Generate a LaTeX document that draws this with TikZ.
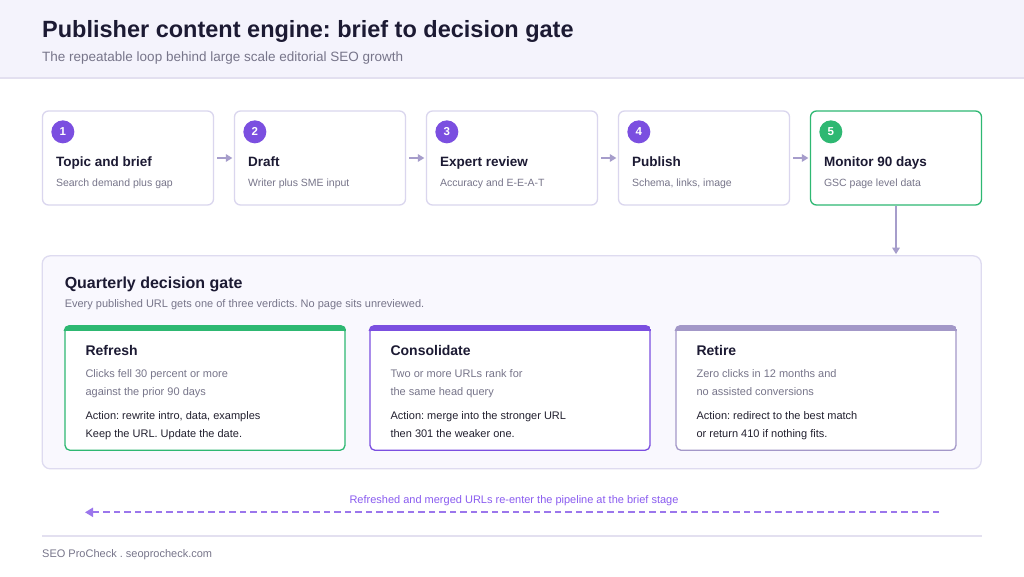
\documentclass[tikz,border=0pt]{standalone}
\usepackage{fontspec}
\setmainfont{Liberation Sans}
\usetikzlibrary{positioning, arrows.meta, calc}
\frenchspacing

\definecolor{ink}{HTML}{1C1A33}
\definecolor{inktext}{HTML}{22202F}
\definecolor{muted}{HTML}{77758A}
\definecolor{headbg}{HTML}{F4F3FC}
\definecolor{rule}{HTML}{E3E0F0}
\definecolor{edge}{HTML}{DAD6EE}
\definecolor{wire}{HTML}{A69DCB}
\definecolor{violet1}{HTML}{7B4FE0}
\definecolor{green1}{HTML}{2EB872}
\definecolor{greyviolet}{HTML}{A398C8}
\definecolor{gatebg}{HTML}{F9F8FE}
\definecolor{gateedge}{HTML}{DEDBF0}
\definecolor{loopviolet}{HTML}{9B76EC}
\definecolor{looptext}{HTML}{8A5CF0}

\begin{document}
\begin{tikzpicture}[
    x=1pt, y=-1pt,
    stepbox/.style={draw=edge, line width=1.3pt, rounded corners=6pt, fill=white, minimum width=171pt, minimum height=94pt, inner sep=0pt},
    badge/.style={circle, fill=#1, text=white, minimum size=23pt, inner sep=0pt, font=\fontsize{11.5}{13}\selectfont\bfseries},
    steptitle/.style={anchor=base west, inner sep=0pt, text=ink, font=\fontsize{13.5}{16}\selectfont\bfseries},
    stepnote/.style={anchor=base west, inner sep=0pt, text=muted, font=\fontsize{10.5}{13}\selectfont},
    flow/.style={-{Triangle[length=6.5pt,width=7.5pt]}, line width=1.5pt, draw=wire},
    card/.style={draw=#1, line width=1.3pt, rounded corners=5pt, fill=white, minimum width=280pt, minimum height=124pt, inner sep=0pt},
    cardtitle/.style={anchor=base west, inner sep=0pt, text=ink, font=\fontsize{14}{17}\selectfont\bfseries},
    cardnote/.style={anchor=base west, inner sep=0pt, align=left, text=muted, font=\fontsize{11}{18}\selectfont},
    cardaction/.style={anchor=base west, inner sep=0pt, align=left, text=inktext, font=\fontsize{11}{18}\selectfont}
]
\useasboundingbox (0,0) rectangle (1024,576);
\fill[white] (0,0) rectangle (1024,576);

% header band
\fill[headbg] (0,0) rectangle (1024,78);
\draw[rule, line width=1.5pt] (0,78) -- (1024,78);
\node[anchor=base west, inner sep=0pt, text=ink, font=\fontsize{23.5}{28}\selectfont\bfseries] (title) at (42,37.5) {Publisher content engine: brief to decision gate};
\node[anchor=base west, inner sep=0pt, text=muted, font=\fontsize{13.5}{16}\selectfont] (subtitle) at (42,61.5) {The repeatable loop behind large scale editorial SEO growth};

% pipeline
\node[stepbox] (s1) at (128,158) {};
\node[stepbox] (s2) at (320,158) {};
\node[stepbox] (s3) at (512,158) {};
\node[stepbox] (s4) at (704,158) {};
\node[stepbox, draw=green1] (s5) at (896,158) {};

\node[badge=violet1] (b1) at ([xshift=21pt,yshift=-21.5pt]s1.north west) {1};
\node[badge=violet1] (b2) at ([xshift=21pt,yshift=-21.5pt]s2.north west) {2};
\node[badge=violet1] (b3) at ([xshift=21pt,yshift=-21.5pt]s3.north west) {3};
\node[badge=violet1] (b4) at ([xshift=21pt,yshift=-21.5pt]s4.north west) {4};
\node[badge=green1] (b5) at ([xshift=21pt,yshift=-21.5pt]s5.north west) {5};

\node[steptitle] (t1) at ([xshift=14pt,yshift=-56pt]s1.north west) {Topic and brief};
\node[stepnote] (n1) at ([xshift=14pt,yshift=-76pt]s1.north west) {Search demand plus gap};
\node[steptitle] (t2) at ([xshift=14pt,yshift=-56pt]s2.north west) {Draft};
\node[stepnote] (n2) at ([xshift=14pt,yshift=-76pt]s2.north west) {Writer plus SME input};
\node[steptitle] (t3) at ([xshift=14pt,yshift=-56pt]s3.north west) {Expert review};
\node[stepnote] (n3) at ([xshift=14pt,yshift=-76pt]s3.north west) {Accuracy and E-E-A-T};
\node[steptitle] (t4) at ([xshift=14pt,yshift=-56pt]s4.north west) {Publish};
\node[stepnote] (n4) at ([xshift=14pt,yshift=-76pt]s4.north west) {Schema, links, image};
\node[steptitle] (t5) at ([xshift=14pt,yshift=-56pt]s5.north west) {Monitor 90 days};
\node[stepnote] (n5) at ([xshift=14pt,yshift=-76pt]s5.north west) {GSC page level data};

\draw[flow, shorten <=3pt, shorten >=1.5pt] (s1.east) -- (s2.west);
\draw[flow, shorten <=3pt, shorten >=1.5pt] (s2.east) -- (s3.west);
\draw[flow, shorten <=3pt, shorten >=1.5pt] (s3.east) -- (s4.west);
\draw[flow, shorten <=3pt, shorten >=1.5pt] (s4.east) -- (s5.west);

% decision gate
\node[draw=gateedge, line width=1.3pt, rounded corners=8pt, fill=gatebg, minimum width=939pt, minimum height=213pt, inner sep=0pt] (gate) at (511.7,362.3) {};
\draw[flow, shorten >=1pt] (s5.south) -- (s5.south |- gate.north);
\node[anchor=base west, inner sep=0pt, text=ink, font=\fontsize{16}{19}\selectfont\bfseries] (gatetitle) at ([xshift=23pt,yshift=-33pt]gate.north west) {Quarterly decision gate};
\node[anchor=base west, inner sep=0pt, text=muted, font=\fontsize{11}{13}\selectfont] (gatenote) at ([xshift=23pt,yshift=-52.5pt]gate.north west) {Every published URL gets one of three verdicts. No page sits unreviewed.};

\node[card=green1] (refresh) at (205,388.3) {};
\node[card=violet1] (consolidate) at (510,388.3) {};
\node[card=greyviolet] (retire) at (816,388.3) {};

\begin{scope}
  \clip[rounded corners=5.5pt] ([shift={(-0.65pt,0.65pt)}]refresh.north west) rectangle ([shift={(0.65pt,-0.65pt)}]refresh.south east);
  \fill[green1] ([shift={(-1pt,1pt)}]refresh.north west) rectangle ([yshift=-5pt]refresh.north east);
\end{scope}
\begin{scope}
  \clip[rounded corners=5.5pt] ([shift={(-0.65pt,0.65pt)}]consolidate.north west) rectangle ([shift={(0.65pt,-0.65pt)}]consolidate.south east);
  \fill[violet1] ([shift={(-1pt,1pt)}]consolidate.north west) rectangle ([yshift=-5pt]consolidate.north east);
\end{scope}
\begin{scope}
  \clip[rounded corners=5.5pt] ([shift={(-0.65pt,0.65pt)}]retire.north west) rectangle ([shift={(0.65pt,-0.65pt)}]retire.south east);
  \fill[greyviolet] ([shift={(-1pt,1pt)}]retire.north west) rectangle ([yshift=-5pt]retire.north east);
\end{scope}

\node[cardtitle] (refreshtitle) at ([xshift=21pt,yshift=-29.5pt]refresh.north west) {Refresh};
\node[cardnote] (refreshnote) at ([xshift=21pt,yshift=-70pt]refresh.north west) {Clicks fell 30 percent or more\\against the prior 90 days};
\node[cardaction] (refreshaction) at ([xshift=21pt,yshift=-112pt]refresh.north west) {Action: rewrite intro, data, examples\\Keep the URL. Update the date.};

\node[cardtitle] (consolidatetitle) at ([xshift=21pt,yshift=-29.5pt]consolidate.north west) {Consolidate};
\node[cardnote] (consolidatenote) at ([xshift=21pt,yshift=-70pt]consolidate.north west) {Two or more URLs rank for\\the same head query};
\node[cardaction] (consolidateaction) at ([xshift=21pt,yshift=-112pt]consolidate.north west) {Action: merge into the stronger URL\\then 301 the weaker one.};

\node[cardtitle] (retiretitle) at ([xshift=21pt,yshift=-29.5pt]retire.north west) {Retire};
\node[cardnote] (retirenote) at ([xshift=21pt,yshift=-70pt]retire.north west) {Zero clicks in 12 months and\\no assisted conversions};
\node[cardaction] (retireaction) at ([xshift=21pt,yshift=-112pt]retire.north west) {Action: redirect to the best match\\or return 410 if nothing fits.};

% loop back to the brief stage
\coordinate (loopstart) at (939,512.3);
\coordinate (loopend) at (85,512.3);
\draw[loopviolet, line width=2pt, dash pattern=on 6.5pt off 4pt, -{Triangle[length=8pt,width=9pt]}] (loopstart) -- (loopend);
\node[anchor=base, inner sep=0pt, text=looptext, font=\fontsize{11}{13}\selectfont] (looplabel) at (514,503) {Refreshed and merged URLs re-enter the pipeline at the brief stage};

% footer
\draw[rule, line width=1.5pt] (42,536) -- (982,536);
\node[anchor=base west, inner sep=0pt, text=muted, font=\fontsize{11}{13}\selectfont] (footer) at (42,557) {SEO ProCheck . seoprocheck.com};
\end{tikzpicture}
\end{document}
